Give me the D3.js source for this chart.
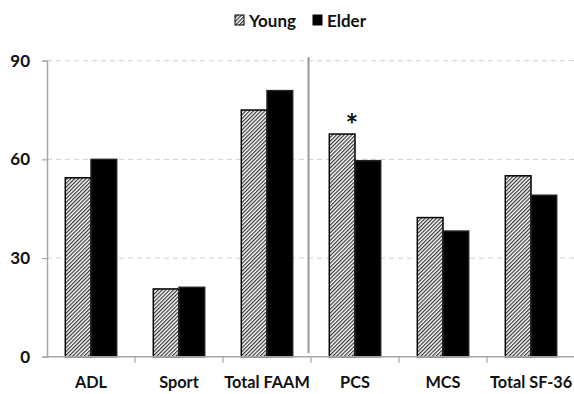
<!DOCTYPE html>
<html>
<head>
<meta charset="utf-8">
<script src="https://cdn.jsdelivr.net/npm/d3@7"></script>
<style>
  html, body { margin: 0; padding: 0; background: #fff; }
  svg text { font-family: Lato, "Open Sans", sans-serif; font-weight: bold; fill: #111; }
</style>
</head>
<body>
<svg id="chart" width="574" height="394"></svg>
<script>
// Scores by age group (FAAM subscales and SF-36 summary scores)
const categories = ["ADL", "Sport", "Total FAAM", "PCS", "MCS", "Total SF-36"];
const seriesNames = ["Young", "Elder"];
const young = [54.4, 20.6, 75.0, 67.7, 42.3, 55.0];
const elder = [60.0, 21.1, 80.9, 59.6, 38.2, 49.1];
const yTicks = [0, 30, 60, 90];
const significant = ["PCS"];

const svg = d3.select("#chart");
const plotLeft = 47, plotRight = 575, plotTop = 60.7, plotBottom = 356.7;

const x0 = d3.scaleBand().domain(categories).range([plotLeft, plotRight])
  .paddingInner(0.416).paddingOuter(0.208);
const x1 = d3.scaleBand().domain(seriesNames).range([0, x0.bandwidth()]);
const y = d3.scaleLinear().domain([0, 90]).range([plotBottom, plotTop]);

// hatch fill for the Young series
const hs = 2.7;
const defs = svg.append("defs");
defs.append("pattern")
  .attr("id", "hatch").attr("patternUnits", "userSpaceOnUse")
  .attr("width", hs).attr("height", hs)
  .attr("patternTransform", "rotate(45)")
  .call(p => {
    p.append("rect").attr("width", hs).attr("height", hs).attr("fill", "#fff");
    p.append("line").attr("x1", 0.6).attr("y1", 0).attr("x2", 0.6).attr("y2", hs)
      .attr("stroke", "#333").attr("stroke-width", 1.2);
  });

// dashed gridlines
svg.append("g").selectAll("line").data(yTicks.filter(d => d > 0)).join("line")
  .attr("x1", plotLeft).attr("x2", plotRight)
  .attr("y1", d => y(d)).attr("y2", d => y(d))
  .attr("stroke", "#cfcfcf").attr("stroke-width", 1)
  .attr("stroke-dasharray", "5,4");

// y axis
const yAxis = svg.append("g").attr("transform", `translate(${plotLeft},0)`)
  .call(d3.axisLeft(y).tickValues(yTicks).tickSize(5).tickPadding(12));
yAxis.select(".domain").attr("stroke", "#a6a6a6").attr("stroke-width", 1.5);
yAxis.selectAll(".tick line").attr("stroke", "#a6a6a6").attr("stroke-width", 1.2);
yAxis.selectAll(".tick text").style("font-size", "17px").attr("fill", "#111");

// bars
const rows = categories.map((c, i) => ({ cat: c, vals: [
  { key: "Young", v: young[i] }, { key: "Elder", v: elder[i] }] }));

const groups = svg.append("g").selectAll("g").data(rows).join("g")
  .attr("transform", d => `translate(${x0(d.cat)},0)`);
groups.selectAll("rect").data(d => d.vals).join("rect")
  .attr("x", d => x1(d.key))
  .attr("width", x1.bandwidth())
  .attr("y", d => y(d.v))
  .attr("height", d => y(0) - y(d.v))
  .attr("fill", d => d.key === "Young" ? "url(#hatch)" : "#000")
  .attr("stroke", d => d.key === "Young" ? "#000" : "#222")
  .attr("stroke-width", 1.5);

// x axis with ticks at category boundaries
const step = x0.step();
const xg = svg.append("g");
xg.append("line").attr("x1", plotLeft).attr("x2", plotRight)
  .attr("y1", plotBottom).attr("y2", plotBottom)
  .attr("stroke", "#a6a6a6").attr("stroke-width", 1.5);
xg.selectAll("line.tk").data(d3.range(1, categories.length)).join("line")
  .attr("class", "tk")
  .attr("x1", i => plotLeft + i * step).attr("x2", i => plotLeft + i * step)
  .attr("y1", plotBottom).attr("y2", plotBottom + 6)
  .attr("stroke", "#a6a6a6").attr("stroke-width", 1.2);
xg.selectAll("text").data(categories).join("text")
  .attr("x", d => x0(d) + x0.bandwidth() / 2)
  .attr("y", 387.5)
  .attr("text-anchor", "middle")
  .style("font-size", "16.3px")
  .text(d => d);

// separator between FAAM and SF-36 groups
const sepX = plotLeft + 3 * step - 2.5;
svg.append("line").attr("x1", sepX).attr("x2", sepX).attr("y1", 57).attr("y2", 353)
  .attr("stroke", "#9a9a9a").attr("stroke-width", 2);

// significance marker
rows.filter(r => significant.includes(r.cat)).forEach(r => {
  svg.append("text")
    .attr("x", x0(r.cat) + x1("Young") + x1.bandwidth() - 3)
    .attr("y", y(r.vals[0].v) + 2)
    .attr("text-anchor", "middle")
    .style("font-size", "30px")
    .text("*");
});

// legend
const legend = svg.append("g");
const items = [
  { key: "Young", fill: "url(#hatch)", x: 235 },
  { key: "Elder", fill: "#000", x: 313 }
];
items.forEach(it => {
  legend.append("rect").attr("x", it.x).attr("y", 15).attr("width", 9).attr("height", 10)
    .attr("fill", it.fill).attr("stroke", "#000").attr("stroke-width", 1);
  legend.append("text").attr("x", it.x + 14).attr("y", 26.5)
    .style("font-size", "17px").text(it.key);
});
</script>
</body>
</html>
